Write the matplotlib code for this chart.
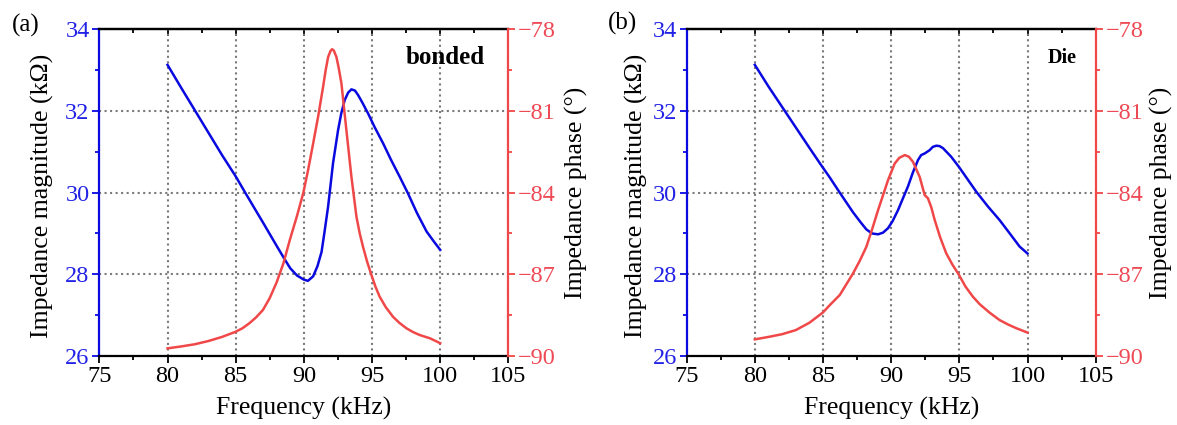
"""
Impedance magnitude / phase vs frequency, bonded vs die (two panels)
"""
import matplotlib
matplotlib.use("Agg")
import matplotlib.pyplot as plt
from matplotlib.ticker import MultipleLocator

plt.rcParams['font.family'] = ['Liberation Serif', 'DejaVu Serif']
plt.rcParams['axes.unicode_minus'] = True

# ============================================
# DATA
# ============================================

# (a) bonded
freq_a_mag = [80, 81, 82, 83, 84, 85, 85.7, 86.5, 87, 88, 88.5, 89, 89.5, 90, 90.3, 90.68,
              91, 91.3, 91.5, 91.78, 92.14, 92.51, 92.75, 93, 93.25, 93.49, 93.75, 93.98,
              94.3, 94.71, 95.2, 95.81, 96.4, 97.03, 97.64, 98.3, 99, 99.5, 100]
mag_a = [33.13, 32.57, 32.02, 31.47, 30.92, 30.4, 30.0, 29.55, 29.27, 28.7, 28.42, 28.15,
         27.97, 27.87, 27.84, 27.95, 28.2, 28.55, 29.0, 29.66, 30.72, 31.53, 31.95, 32.27,
         32.45, 32.53, 32.5, 32.39, 32.2, 31.94, 31.6, 31.21, 30.8, 30.39, 29.98, 29.5,
         29.05, 28.82, 28.6]

freq_a_ph = [80, 81, 82, 83, 84, 85, 85.5, 86, 86.5, 87, 87.5, 88, 88.5, 88.97, 89.5, 89.95,
             90.3, 90.68, 91.05, 91.41, 91.6, 91.78, 91.95, 92.07, 92.2, 92.39, 92.55,
             92.76, 93.12, 93.49, 93.86, 94.1, 94.34, 94.65, 94.96, 95.25, 95.56, 96,
             96.54, 97, 97.52, 98, 98.5, 99.25, 100]
phase_a = [-89.72, -89.65, -89.57, -89.45, -89.3, -89.11, -88.98, -88.8, -88.58, -88.31,
           -87.87, -87.3, -86.6, -85.74, -84.85, -84.03, -83.2, -82.2, -81.2, -80.12,
           -79.5, -79.02, -78.8, -78.73, -78.78, -79.02, -79.4, -80.0, -81.7, -83.42,
           -84.89, -85.5, -85.99, -86.55, -87.03, -87.45, -87.82, -88.2, -88.56, -88.78,
           -88.98, -89.12, -89.23, -89.35, -89.53]

# (b) die
freq_b_mag = [80, 81, 82, 83, 84, 84.77, 85.5, 86.23, 87.2, 87.7, 88.18, 88.6, 89.04, 89.4,
              89.77, 90.1, 90.5, 90.85, 91.23, 91.6, 91.97, 92.2, 92.46, 92.82, 93.05,
              93.31, 93.55, 93.8, 94.4, 94.95, 95.6, 96.25, 97.1, 97.95, 98.7, 99.42, 100]
mag_b = [33.13, 32.6, 32.1, 31.6, 31.1, 30.72, 30.37, 30.0, 29.52, 29.3, 29.1, 29.0, 28.98,
         29.02, 29.13, 29.3, 29.57, 29.85, 30.15, 30.5, 30.8, 30.92, 30.96, 31.04, 31.12,
         31.15, 31.14, 31.09, 30.88, 30.64, 30.33, 30.02, 29.66, 29.33, 29.0, 28.68, 28.51]

freq_b_ph = [80, 81, 82, 83, 84, 85, 85.5, 86.23, 87.2, 87.7, 88.18, 88.6, 89.04, 89.4,
             89.77, 90.26, 90.6, 91, 91.3, 91.6, 92.09, 92.46, 92.7, 92.95, 93.19, 93.6,
             94.04, 94.5, 94.95, 95.45, 95.99, 96.5, 97.2, 97.95, 98.6, 99.18, 100]
phase_b = [-89.39, -89.3, -89.2, -89.05, -88.78, -88.4, -88.13, -87.76, -86.97, -86.5,
           -85.99, -85.35, -84.64, -84.1, -83.54, -82.93, -82.72, -82.62, -82.68, -82.87,
           -83.42, -84.09, -84.21, -84.55, -85.0, -85.65, -86.23, -86.65, -87.0, -87.45,
           -87.82, -88.1, -88.4, -88.68, -88.85, -88.98, -89.14]

# ============================================
# STYLE
# ============================================

BLUE = '#0a0ae0'
RED = '#f04848'
TICK_BLUE = '#2222e6'
TICK_RED = '#ee4a55'
FS_TICK = 17.5
FS_LABEL = 18.5
SPINE_W = 1.6


def draw_panel(ax, fm, mag, fp, ph, note, note_xy, note_size, ylab_x, y2lab_x):
    ax2 = ax.twinx()

    ax.plot(fm, mag, color=BLUE, lw=1.8, zorder=3)
    ax2.plot(fp, ph, color=RED, lw=1.8, zorder=3)

    ax.set_xlim(75, 105)
    ax.set_ylim(26, 34)
    ax2.set_ylim(-90, -78)

    ax.xaxis.set_major_locator(MultipleLocator(5))
    ax.xaxis.set_minor_locator(MultipleLocator(2.5))
    ax.yaxis.set_major_locator(MultipleLocator(2))
    ax.yaxis.set_minor_locator(MultipleLocator(1))
    ax2.yaxis.set_major_locator(MultipleLocator(3))
    ax2.yaxis.set_minor_locator(MultipleLocator(1.5))

    ax.grid(True, which='major', color='#7a7a7a', linestyle=':', linewidth=1.5)

    # spines
    for s in ['left', 'right', 'top', 'bottom']:
        ax.spines[s].set_linewidth(SPINE_W)
        ax2.spines[s].set_linewidth(SPINE_W)
    ax.spines['left'].set_color(BLUE)
    ax.spines['right'].set_visible(False)
    ax2.spines['left'].set_visible(False)
    ax2.spines['top'].set_visible(False)
    ax2.spines['bottom'].set_visible(False)
    ax2.spines['right'].set_color(RED)

    # ticks
    ax.tick_params(axis='x', which='both', direction='out', colors='black',
                   labelsize=FS_TICK, width=1.3, pad=2, top=False)
    ax.tick_params(axis='x', which='major', length=5)
    ax.tick_params(axis='x', which='minor', length=3)
    ax.tick_params(axis='y', which='both', direction='out', color=BLUE,
                   labelcolor=TICK_BLUE, labelsize=FS_TICK, width=1.3, pad=2)
    ax.tick_params(axis='y', which='major', length=5)
    ax.tick_params(axis='y', which='minor', length=3)
    ax2.tick_params(axis='y', which='both', direction='out', color=RED,
                    labelcolor=TICK_RED, labelsize=FS_TICK, width=1.3, pad=2)
    ax2.tick_params(axis='y', which='major', length=5)
    ax2.tick_params(axis='y', which='minor', length=3)

    top = ax.secondary_xaxis('top')
    top.xaxis.set_major_locator(MultipleLocator(5))
    top.xaxis.set_minor_locator(MultipleLocator(2.5))
    top.tick_params(which='both', direction='in', labeltop=False, width=1.3)
    top.tick_params(which='major', length=5)
    top.tick_params(which='minor', length=3)
    top.spines['top'].set_linewidth(SPINE_W)

    # labels
    ax.set_xlabel('Frequency (kHz)', fontsize=FS_LABEL)
    ax.xaxis.set_label_coords(0.5, -0.125)
    ax.set_ylabel('Impedance magnitude (k\u03a9)', fontsize=FS_LABEL)
    ax.yaxis.set_label_coords(ylab_x, 0.49)
    ax.yaxis.label.set_verticalalignment('center')
    ax2.set_ylabel('Impedance phase (\u00b0)', fontsize=FS_LABEL)
    ax2.yaxis.set_label_coords(y2lab_x, 0.5)
    ax2.yaxis.label.set_verticalalignment('center')

    ax.text(note_xy[0], note_xy[1], note, transform=ax.transAxes, fontsize=note_size,
            fontweight='bold', ha='center', va='center')


fig = plt.figure(figsize=(11.77, 4.25), dpi=100)
ax_a = fig.add_axes([0.0844, 0.1624, 0.3475, 0.7686])
ax_b = fig.add_axes([0.5834, 0.1624, 0.3475, 0.7686])

draw_panel(ax_a, freq_a_mag, mag_a, freq_a_ph, phase_a, 'bonded', (0.845, 0.915), 18,
           -0.138, 1.166)
draw_panel(ax_b, freq_b_mag, mag_b, freq_b_ph, phase_b, 'Die', (0.918, 0.911), 14.5,
           -0.122, 1.162)

fig.text(0.022, 0.941, '(a)', fontsize=18, ha='center', va='center')
fig.text(0.5285, 0.944, '(b)', fontsize=18, ha='center', va='center')

fig.savefig('out.png', dpi=100)
